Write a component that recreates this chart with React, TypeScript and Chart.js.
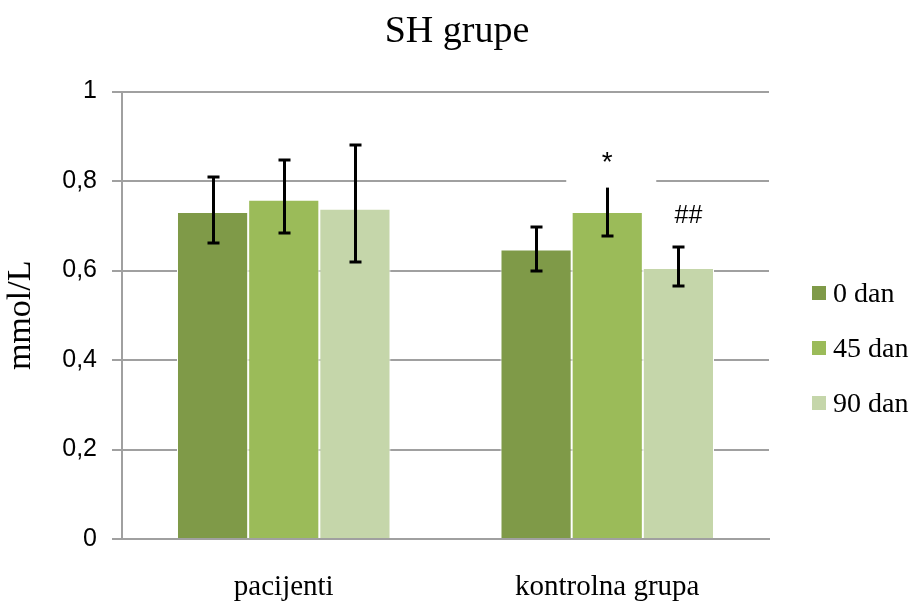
import React, { useEffect, useRef } from "react";
import { Chart, registerables } from "chart.js";

Chart.register(...registerables);

// ---- data ----
const categories = ["pacijenti", "kontrolna grupa"];
const seriesLabels = ["0 dan", "45 dan", "90 dan"];
const values0 = [0.731, 0.647];
const values45 = [0.758, 0.731];
const values90 = [0.738, 0.606];
const errLow0 = [0.662, 0.6];
const errHigh0 = [0.809, 0.698];
const errLow45 = [0.685, 0.678];
const errHigh45 = [0.846, 0.8];
const errLow90 = [0.62, 0.566];
const errHigh90 = [0.881, 0.653];
const yTickValues = [0, 0.2, 0.4, 0.6, 0.8, 1];
const seriesColors = ["#7F9A48", "#9BBB59", "#C5D6AA"];
// significance marks: [datasetIndex, categoryIndex, text, y value]
const markDatasets = [1, 2];
const markCategories = [1, 1];
const markTexts = ["*", "##"];
const markValues = [0.848, 0.722];

const errLows = [errLow0, errLow45, errLow90];
const errHighs = [errHigh0, errHigh45, errHigh90];

const SERIF = "'Liberation Serif', 'Times New Roman', serif";
const SANS = "'Liberation Sans', Arial, sans-serif";

const titleWidthPlugin = {
  id: "titleFullWidth",
  afterLayout(chart: any) {
    const t = chart.titleBlock;
    if (t) {
      t.left = 0;
      t.right = chart.width;
      t.width = chart.width;
    }
  },
};

const errorBarPlugin = {
  id: "errorBars",
  afterDatasetsDraw(chart: any) {
    const ctx = chart.ctx;
    const y = chart.scales.y;
    ctx.save();
    ctx.strokeStyle = "#000";
    ctx.lineWidth = 3;
    chart.data.datasets.forEach((_ds: any, di: number) => {
      const meta = chart.getDatasetMeta(di);
      meta.data.forEach((bar: any, i: number) => {
        const x = Math.round(bar.x) + 0.5;
        const yh = Math.round(y.getPixelForValue(errHighs[di][i]));
        const yl = Math.round(y.getPixelForValue(errLows[di][i]));
        ctx.beginPath();
        ctx.moveTo(x, yh);
        ctx.lineTo(x, yl);
        ctx.moveTo(x - 6, yh);
        ctx.lineTo(x + 6, yh);
        ctx.moveTo(x - 6, yl);
        ctx.lineTo(x + 6, yl);
        ctx.stroke();
      });
    });
    ctx.restore();
  },
};

const marksPlugin = {
  id: "marks",
  afterDraw(chart: any) {
    const ctx = chart.ctx;
    const y = chart.scales.y;
    ctx.save();
    markTexts.forEach((t, k) => {
      const bar = chart.getDatasetMeta(markDatasets[k]).data[markCategories[k]];
      const tx = bar.x + (t.length > 1 ? 10 : 0);
      const ty = y.getPixelForValue(markValues[k]);
      ctx.fillStyle = "#fff";
      if (k === 0) ctx.fillRect(tx - 41, ty - 28, 90, 56);
      ctx.fillStyle = "#000";
      ctx.font = t === "*" ? `28px ${SANS}` : `25px ${SANS}`;
      ctx.textAlign = "center";
      ctx.textBaseline = "middle";
      ctx.fillText(t, tx, ty + (t === "*" ? 4 : 0));
    });
    ctx.restore();
  },
};

const legendPlugin = {
  id: "customLegend",
  afterDraw(chart: any) {
    const ctx = chart.ctx;
    const area = chart.chartArea;
    const left = area.right + 43;
    const firstBaseline = 302;
    ctx.save();
    ctx.font = `28px ${SERIF}`;
    ctx.textAlign = "left";
    ctx.textBaseline = "alphabetic";
    chart.data.datasets.forEach((ds: any, i: number) => {
      const base = firstBaseline + i * 55;
      ctx.fillStyle = ds.backgroundColor;
      ctx.fillRect(left, base - 16, 14, 14);
      ctx.fillStyle = "#000";
      ctx.fillText(ds.label, left + 21, base);
    });
    ctx.restore();
  },
};

export default function App() {
  const ref = useRef<HTMLCanvasElement | null>(null);

  useEffect(() => {
    document.body.style.margin = "0";
    const canvas = ref.current;
    if (!canvas) return;
    const values = [values0, values45, values90];
    const chart = new Chart(canvas, {
      type: "bar",
      data: {
        labels: categories,
        datasets: seriesLabels.map((label, i) => ({
          label,
          data: values[i],
          backgroundColor: seriesColors[i],
          borderColor: "#ffffff",
          borderWidth: 1,
          categoryPercentage: 0.66,
          barPercentage: 1,
        })),
      },
      options: {
        responsive: true,
        maintainAspectRatio: false,
        animation: false,
        layout: { padding: { top: 0, right: 145, bottom: 0, left: 0 } },
        plugins: {
          legend: { display: false },
          tooltip: { enabled: false },
          title: {
            display: true,
            text: "SH grupe",
            color: "#000",
            font: { family: SERIF, size: 38, weight: "normal" },
            padding: { top: 9, bottom: 37 },
          },
        },
        scales: {
          x: {
            grid: { display: false, drawTicks: false },
            border: { display: true, color: "#a0a0a0", width: 2 },
            ticks: {
              color: "#000",
              font: { family: SERIF, size: 29 },
              padding: 31,
              maxRotation: 0,
              autoSkip: false,
            },
            afterFit(scale: any) {
              scale.height = 62;
            },
          },
          y: {
            min: 0,
            max: 1,
            afterBuildTicks(scale: any) {
              scale.ticks = yTickValues.map((v) => ({ value: v }));
            },
            grid: { color: "#a0a0a0", lineWidth: 2, tickLength: 10 },
            border: { display: true, color: "#a0a0a0", width: 2 },
            ticks: {
              color: "#000",
              font: { family: SANS, size: 25 },
              padding: 15,
              callback: (v: any) => String(Math.round(Number(v) * 10) / 10).replace(".", ","),
            },
            title: {
              display: true,
              text: "mmol/L",
              color: "#000",
              font: { family: SERIF, size: 34, weight: "normal" },
              padding: { top: 1, bottom: 0 },
            },
            afterFit(scale: any) {
              scale.width = 122;
            },
          },
        },
      },
      plugins: [titleWidthPlugin, errorBarPlugin, marksPlugin, legendPlugin],
    });
    return () => chart.destroy();
  }, []);

  return (
    <div style={{ width: 914, height: 601, position: "relative", background: "#fff" }}>
      <canvas ref={ref} />
    </div>
  );
}
